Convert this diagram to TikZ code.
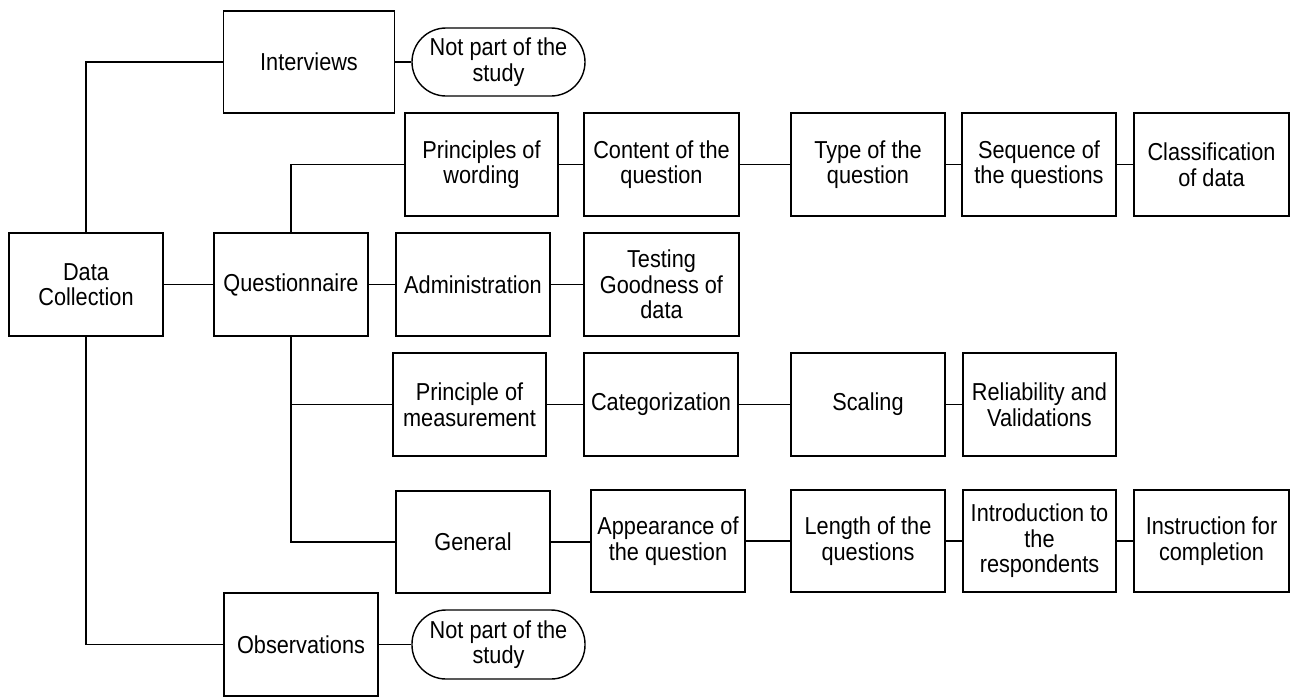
\documentclass[tikz,border=0pt]{standalone}
\usepackage{fontspec}
\setmainfont{Liberation Sans}[FakeStretch=0.886]
\begin{document}
\begin{tikzpicture}[x=1pt,y=-1pt,
  box/.style={draw, line width=1.4pt, align=center, inner sep=0pt,
    minimum width=154pt, minimum height=103pt,
    font=\fontsize{24.5}{25.5}\selectfont},
  term/.style={box, rounded corners=34pt, minimum width=173pt, minimum height=68pt},
  link/.style={line width=1.4pt}]
\useasboundingbox (0,0) rectangle (1290,697);

% first level
\node[box] (dc)  at (86,284.5)  {Data\\Collection};
\node[box, minimum width=171pt, minimum height=102pt] (int) at (309,62) {Interviews};
\node[term] (np1) at (498.5,62) {Not part of the\\study};
\node[box] (q)   at (291,284.5) {Questionnaire};
\node[box] (obs) at (301,644.5) {Observations};
\node[term, minimum height=69pt] (np2) at (498.5,644.5) {Not part of the\\study};

% wording chain
\node[box, minimum width=153pt] (wrd) at (481.5,164.5) {Principles of\\wording};
\node[box, minimum width=155pt] (cnt) at (661.5,164.5) {Content of the\\question};
\node[box] (typ) at (868,164.5)  {Type of the\\question};
\node[box] (seq) at (1039,164.5) {Sequence of\\the questions};
\node[box, minimum width=155pt] (cls) at (1211.5,164.5) {Classification\\of data};

% administration chain
\node[box] (adm) at (473,284.5) {Administration};
\node[box, minimum width=155pt] (tst) at (661.5,284.5) {Testing\\Goodness of\\data};

% measurement chain
\node[box, minimum width=153pt] (mea) at (469.5,404.5) {Principle of\\measurement};
\node[box] (cat) at (661,404.5)  {Categorization};
\node[box] (scl) at (868,404.5)  {Scaling};
\node[box, minimum width=153pt] (rel) at (1039.5,404.5) {Reliability and\\Validations};

% general chain
\node[box, minimum height=102pt] (gen) at (473,542) {General};
\node[box, minimum height=102pt] (app) at (668,541) {Appearance of\\the question};
\node[box, minimum height=102pt] (len) at (868,541) {Length of the\\questions};
\node[box, minimum width=153pt, minimum height=102pt] (ntr) at (1039.5,541) {Introduction to\\the\\respondents};
\node[box, minimum width=155pt, minimum height=102pt] (ins) at (1211.5,541) {Instruction for\\completion};

% connectors
\draw[link] (dc.north) |- (int.west);
\draw[link] (dc.south) |- (obs.west);
\draw[link] (dc) -- (q);
\draw[link] (int) -- (np1);
\draw[link] (obs) -- (np2);
\draw[link] (q.north) |- (wrd.west);
\draw[link] (q.south) |- (mea.west);
\draw[link] (q.south) |- (gen.west);
\draw[link] (q) -- (adm);
\draw[link] (adm) -- (tst);
\draw[link] (wrd) -- (cnt);
\draw[link] (cnt) -- (typ);
\draw[link] (typ) -- (seq);
\draw[link] (seq) -- (cls);
\draw[link] (mea) -- (cat);
\draw[link] (cat) -- (scl);
\draw[link] (scl) -- (rel);
\draw[link] (gen.east) -- (gen.east -| app.west);
\draw[link] (app) -- (len);
\draw[link] (len) -- (ntr);
\draw[link] (ntr) -- (ins);
\end{tikzpicture}
\end{document}
